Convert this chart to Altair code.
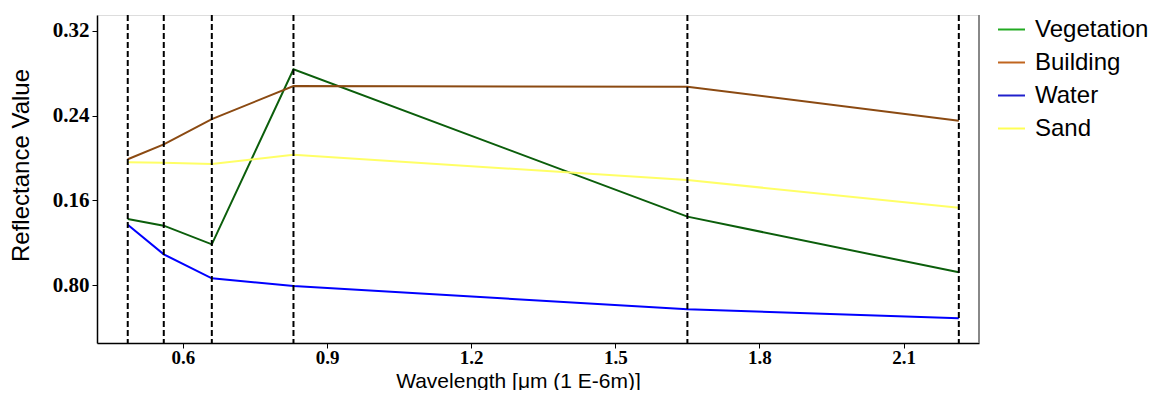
import altair as alt
import pandas as pd

# ---- data ----
BANDS = [0.485, 0.56, 0.66, 0.83, 1.65, 2.215]
SERIES = ["Vegetation", "Building", "Water", "Sand"]
VEGETATION = [0.1425, 0.1362, 0.1186, 0.2836, 0.1447, 0.0922]
BUILDING = [0.1988, 0.2129, 0.2367, 0.2678, 0.2672, 0.2351]
WATER = [0.1371, 0.1092, 0.0866, 0.0793, 0.0574, 0.0489]
SAND = [0.1959, 0.1956, 0.1943, 0.2031, 0.1792, 0.1531]

X_TICKS = [0.6, 0.9, 1.2, 1.5, 1.8, 2.1]
Y_TICKS = [0.08, 0.16, 0.24, 0.32]
Y_TICK_LABELS = ["0.80", "0.16", "0.24", "0.32"]
X_DOMAIN = [0.421, 2.257]
Y_DOMAIN = [0.0256, 0.3348]

LINE_COLORS = ["#0b5e0b", "#8b4a12", "#0000ff", "#ffff66"]
LEGEND_COLORS = ["#22aa22", "#c0651f", "#2020cc", "#ffff55"]

rows = []
for name, vals in zip(SERIES, [VEGETATION, BUILDING, WATER, SAND]):
    for b, v in zip(BANDS, vals):
        rows.append({"series": name, "wavelength": b, "reflectance": v})
df = pd.DataFrame(rows)
bands_df = pd.DataFrame({"band": BANDS})
edge_df = pd.DataFrame({"edge": [X_DOMAIN[1]]})

label_expr = " : ".join(
    f"datum.value == {t} ? '{l}'" for t, l in zip(Y_TICKS, Y_TICK_LABELS)
) + " : ''"

x_enc = alt.X(
    "wavelength:Q",
    scale=alt.Scale(domain=X_DOMAIN, nice=False, zero=False),
    axis=alt.Axis(
        values=X_TICKS, format=".1f", title="Wavelength [μm (1 E-6m)]",
        grid=False, domain=True, domainColor="black", domainWidth=1.5,
        tickColor="black", tickSize=5,
        labelFont="Liberation Serif", labelFontWeight="bold", labelFontSize=19,
        labelColor="black", labelPadding=0,
        titleFont="Liberation Sans", titleFontWeight="normal", titleFontSize=21,
        titleColor="black", titleX=421, titleY=44, titleBaseline="alphabetic",
        titleAlign="center",
    ),
)
y_enc = alt.Y(
    "reflectance:Q",
    scale=alt.Scale(domain=Y_DOMAIN, nice=False, zero=False),
    axis=alt.Axis(
        values=Y_TICKS, labelExpr=label_expr, title="Reflectance Value",
        grid=False, domain=True, domainColor="black", domainWidth=1.5,
        tickColor="black", tickSize=5,
        labelFont="Liberation Serif", labelFontWeight="bold", labelFontSize=21,
        labelColor="black", labelPadding=3,
        titleFont="Liberation Sans", titleFontWeight="normal", titleFontSize=24,
        titleColor="black", titleX=-76, titleY=150, titleAngle=-90,
        titleBaseline="middle", titleAlign="center",
    ),
)

lines = alt.Chart(df).mark_line(strokeWidth=2).encode(
    x=x_enc,
    y=y_enc,
    color=alt.Color("series:N", sort=SERIES,
                    scale=alt.Scale(domain=SERIES, range=LINE_COLORS), legend=None),
)

legend_layer = alt.Chart(df).mark_line(strokeWidth=2, opacity=0).encode(
    x="wavelength:Q",
    y="reflectance:Q",
    stroke=alt.Stroke(
        "series:N", sort=SERIES,
        scale=alt.Scale(domain=SERIES, range=LEGEND_COLORS),
        legend=alt.Legend(
            title=None, orient="none", legendX=900, legendY=0,
            symbolType="stroke", symbolSize=729, symbolStrokeWidth=2,
            symbolOpacity=1, labelFont="Liberation Sans", labelFontSize=24,
            labelColor="black", labelOffset=9, rowPadding=6, labelLimit=300,
        ),
    ),
)

band_rules = alt.Chart(bands_df).mark_rule(
    color="black", strokeWidth=2, strokeDash=[6, 3]
).encode(x="band:Q")

right_edge = alt.Chart(edge_df).mark_rule(color="#888888", strokeWidth=2).encode(
    x="edge:Q"
)

chart = alt.layer(lines, legend_layer, band_rules, right_edge).resolve_scale(
    color="independent", stroke="independent"
).properties(
    width=882, height=328,
    autosize=alt.AutoSizeParams(type="none"),
    padding={"left": 89, "top": 7, "right": 182, "bottom": 47},
).configure_view(stroke="black", strokeWidth=1.5).configure(background="white")

chart.save("out.html", embed_options={"renderer": "svg", "actions": False})
